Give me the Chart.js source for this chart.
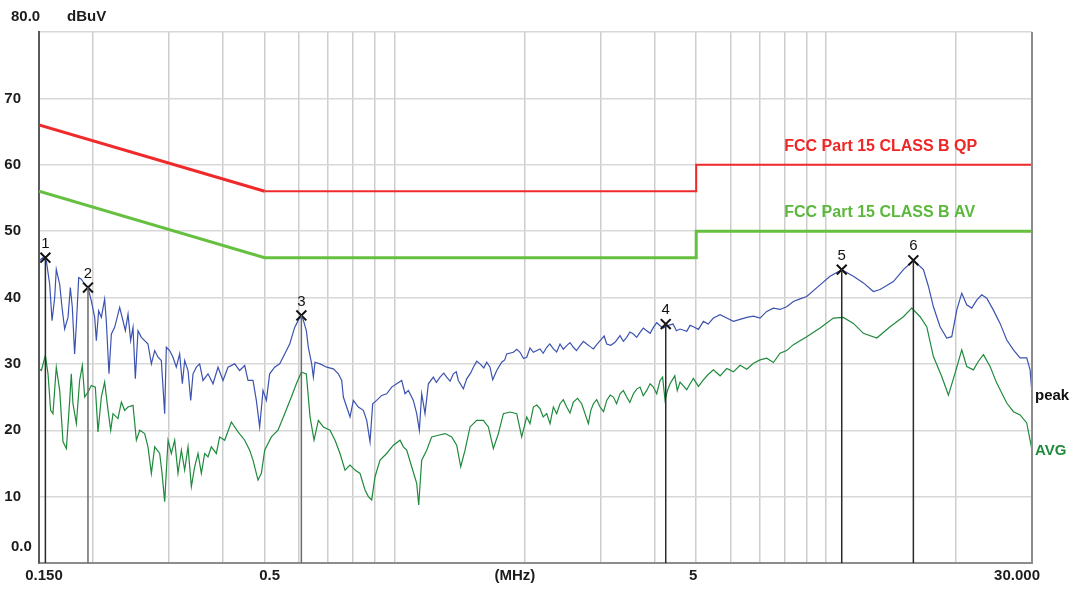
<!DOCTYPE html>
<html>
<head>
<meta charset="utf-8">
<script src="https://cdn.jsdelivr.net/npm/chart.js@4.4.1/dist/chart.umd.min.js"></script>
<style>
  html, body { margin: 0; padding: 0; background: #fff; }
  canvas { display: block; }
</style>
</head>
<body>
<canvas id="emiChart" width="1079" height="590"></canvas>
<script>
// frequencies in MHz, levels in dBuV
var peakFreq = [0.150,0.1532,0.1560,0.1588,0.1608,0.1631,0.1645,0.1675,0.1696,0.1720,0.1751,0.1773,0.1792,0.1814,0.1831,0.1854,0.1880,0.1914,0.1948,0.1983,
  0.2019,0.2037,0.2062,0.2092,0.2129,0.2148,0.2179,0.2207,0.2246,0.2307,0.2348,0.2378,0.2412,0.2446,0.2477,0.2508,0.2544,0.2590,0.2636,0.2683,
  0.2732,0.2781,0.2831,0.2881,0.2933,0.2959,0.3012,0.3066,0.3121,0.3177,0.3223,0.3263,0.3322,0.3370,0.3412,0.3473,0.3535,0.3599,0.3696,0.3796,
  0.3899,0.4004,0.4112,0.4261,0.4376,0.4495,0.4575,0.4699,0.4783,0.4869,0.4957,0.5046,0.5136,0.5275,0.5418,0.5564,0.5715,0.5869,0.6028,0.6136,0.6246,
  0.6313,0.6426,0.6484,0.6542,0.6719,0.6962,0.7214,0.7409,0.7542,0.7610,0.7746,0.7885,0.8027,0.8244,0.8467,0.8619,0.8773,0.8899,0.9091,0.9337,
  0.9589,0.9849,1.0115,1.0388,1.0575,1.0765,1.1056,1.1254,1.1415,1.1558,1.1766,1.1977,
  1.2301,1.25,1.2746,1.30,1.3208,1.345,1.3686,1.39,1.4056,1.4437,1.4696,1.50,1.5228,1.55,1.5779,1.61,1.6351,1.6644,1.6883,1.7247,
  1.7713,1.80,1.8192,1.8851,1.92,1.9534,1.99,2.0241,2.06,2.0974,2.1733,2.21,2.2521,2.29,2.3336,2.375,2.4181,2.46,2.5057,2.55,
  2.5964,2.64,2.6905,2.74,2.7879,2.84,2.8888,2.95,3.0202,3.06,3.1019,3.17,3.243,3.29,3.3306,3.39,3.4513,3.51,3.5763,3.64,
  3.7058,3.77,3.84,3.91,3.979,4.05,4.1231,4.20,4.2723,4.42,4.50,4.5873,
  4.7536,4.84,4.9257,5.06,5.1957,5.33,5.4805,5.68,5.8846,6.1,6.3185,6.55,6.7844,7.03,7.2847,7.55,7.822,8.1,8.3989,8.7,
  9.0182,9.6836,10.214,10.870,11.568,12.202,12.871,13.337,14.321,15.105,15.934,16.806,17.261,17.728,18.370,19.035,19.550,20.078,20.622,21.179,
  21.752,22.340,22.944,23.565,24.418,25.302,26.219,27.168,28.152,29.171,29.694,30.0];
var peakDb = [45.5,46.0,45.5,42.0,36.5,40.0,44.25,42.0,38.5,35.25,37.0,41.5,38.5,31.5,36.0,43.0,42.75,42.0,41.5,39.5,
  37.0,33.5,38.0,37.0,39.75,36.5,28.5,34.5,35.5,38.5,36.5,35.0,37.5,33.5,35.5,27.75,35.0,34.0,33.5,33.0,
  30.0,32.0,31.0,30.5,22.5,32.5,32.0,31.0,29.5,31.5,27.0,30.5,29.0,24.5,28.5,29.5,30.0,27.5,28.5,27.0,
  29.5,27.5,29.5,30.0,29.0,29.75,27.5,27.5,24.5,20.5,26.0,24.5,28.5,29.5,30.0,31.5,33.0,35.5,37.0,36.75,35.0,
  32.5,30.0,28.0,30.25,30.0,29.5,29.25,28.5,27.5,25.0,23.5,22.0,24.5,23.5,23.0,21.5,18.25,24.0,24.5,25.25,
  25.5,26.5,27.0,27.5,25.5,26.0,24.5,22.5,20.0,25.5,22.5,27.0,
  28.0,27.2,28.0,28.6,28.0,27.4,28.5,28.8,27.5,26.25,27.75,28.6,29.5,30.4,30.0,29.4,30.25,29.5,27.6,29.0,
  30.25,30.6,31.5,31.75,32.2,31.75,30.8,31.0,32.4,31.75,32.25,31.6,32.5,33.0,32.25,31.8,33.0,32.2,32.75,33.2,
  32.5,32.0,32.75,33.4,33.0,32.6,32.25,33.0,33.75,34.2,33.0,32.8,33.25,33.8,34.25,33.4,34.0,34.8,34.5,34.0,
  34.75,35.4,35.0,34.6,35.5,36.2,35.75,35.4,35.75,36.0,35.0,35.25,
  34.9,35.8,35.6,35.2,36.4,36.0,36.9,37.4,36.9,36.4,36.7,37.0,37.2,36.9,37.9,38.4,38.2,38.6,39.4,39.8,
  40.15,41.9,43.2,44.2,43.2,42.2,40.9,41.2,42.4,44.2,45.6,44.2,41.7,38.6,35.6,33.9,34.1,38.1,40.65,38.9,
  38.4,39.6,40.4,39.9,38.1,36.1,33.6,32.1,30.9,30.9,29.1,25.6];

var avgFreq = [0.150,0.1519,0.1552,0.1574,0.1596,0.1616,0.1645,0.1675,0.1705,0.1736,0.1767,0.1782,0.1798,0.1831,0.1863,0.1890,0.1914,0.1948,0.1983,0.2026,
  0.2055,0.2092,0.2129,0.2168,0.2199,0.2226,0.2286,0.2328,0.2369,0.2412,0.2477,0.2522,0.2567,0.2636,0.2683,0.2732,0.2781,0.2856,0.2892,0.2933,
  0.2986,0.3039,0.3094,0.3149,0.3206,0.3263,0.3322,0.3382,0.3442,0.3504,0.3567,0.3631,0.3696,0.3762,0.3864,0.3933,0.4040,0.4186,0.4338,0.4495,
  0.4616,0.4699,0.4826,0.4913,0.5001,0.5182,0.5370,0.5564,0.5766,0.5922,0.6082,0.6246,
  0.6370,0.6507,0.6659,0.6839,0.7087,0.7279,0.7475,0.7678,0.7885,0.8098,0.8317,0.8542,0.8696,0.8852,0.9010,0.9254,0.9589,0.9937,1.0296,1.0481,
  1.0669,1.0958,1.1254,1.1375,1.1558,1.1871,1.2192,1.2634,1.3091,1.3565,1.3932,1.4233,1.4566,1.4960,1.5502,1.6062,1.6497,1.6943,1.7401,1.7872,
  1.8519,1.9189,1.9708,2.0241,2.06,2.0974,2.135,2.1733,2.21,2.2521,2.2924,2.3336,2.375,2.4181,2.46,2.5057,2.55,2.5964,2.655,2.7145,
  2.8128,2.85,2.8888,2.94,2.9935,3.05,3.1019,3.16,3.2142,3.27,3.3306,3.39,3.4513,3.51,3.5763,3.64,3.7058,3.77,3.84,3.91,
  3.979,4.05,4.1231,4.18,4.2345,4.29,4.349,4.46,4.52,4.5873,
  4.7536,4.84,4.9257,5.06,5.1957,5.33,5.4805,5.68,5.8846,6.1,6.3185,6.55,6.7844,7.03,7.2847,7.55,7.822,8.1,8.3989,9.0182,
  9.6836,10.397,10.967,11.568,12.202,13.102,14.068,15.105,15.793,16.511,17.109,17.728,18.534,19.205,19.901,20.622,21.179,21.946,22.540,23.149,
  23.988,24.857,26.219,27.168,28.152,29.171,29.694,30.0];
var avgDb = [29.25,29.0,31.25,28.5,23.0,22.5,29.5,26.0,18.25,17.25,24.5,28.5,24.0,21.0,27.5,29.75,25.0,25.75,26.75,26.5,
  19.75,25.0,27.25,23.0,20.0,22.5,21.75,24.25,23.0,23.5,23.75,18.5,20.0,19.5,17.5,13.5,17.5,16.5,13.5,9.25,
  18.5,16.5,18.5,13.5,17.0,14.0,17.5,11.5,14.5,16.5,13.5,16.5,16.0,17.5,16.5,19.0,18.5,21.25,19.75,18.5,
  17.0,15.5,12.5,13.5,17.0,19.0,20.0,22.5,25.0,27.0,28.75,28.5,
  22.0,18.5,21.5,20.5,20.0,18.5,16.5,14.0,14.75,14.0,13.5,11.0,10.0,9.5,13.0,15.5,16.5,17.75,18.5,17.5,
  17.0,14.5,12.0,8.75,15.5,17.0,19.0,19.25,19.5,19.0,17.75,14.5,17.0,20.5,21.5,21.5,20.5,17.25,19.5,22.5,
  22.75,22.5,19.0,22.0,21.0,23.5,23.8,23.25,22.0,22.5,21.0,23.5,22.5,24.0,24.6,23.5,22.6,24.25,24.8,24.0,
  21.0,23.0,24.0,24.6,23.5,22.8,24.5,25.3,25.0,24.0,25.5,26.0,25.0,24.2,25.5,26.2,26.5,25.2,26.0,27.0,
  26.5,25.5,27.5,28.0,24.5,26.0,27.0,28.2,26.0,27.25,
  26.1,27.0,27.8,26.6,27.6,28.4,29.1,28.2,29.3,28.8,29.8,29.2,30.1,30.6,30.85,30.2,31.6,32.0,32.9,34.1,
  35.4,36.9,37.0,36.1,34.6,33.9,35.6,37.1,38.4,37.1,35.6,31.1,28.1,25.3,28.6,32.1,29.6,29.1,30.4,31.4,
  29.6,27.1,24.1,22.8,22.3,21.1,18.5,17.0];

var qpLimitFreq = [0.15, 0.5, 5, 5, 30];
var qpLimitDb = [66, 56, 56, 60, 60];
var avLimitFreq = [0.15, 0.5, 5, 5, 30];
var avLimitDb = [56, 46, 46, 50, 50];

var markerNo = ['1', '2', '3', '4', '5', '6'];
var markerFreq = [0.1552, 0.1948, 0.6082, 4.25, 10.87, 15.93];
var markerDb = [46.0, 41.5, 37.3, 36.0, 44.2, 45.6];

var gridFreq = [0.15, 0.2, 0.3, 0.4, 0.5, 0.6, 0.7, 0.8, 0.9, 1, 2, 3, 4, 5, 6, 7, 8, 9, 10, 20, 30];
var yTickVals = [10, 20, 30, 40, 50, 60, 70];
var xTickFreq = [0.15, 0.5, 1.9, 5, 30];
var xTickText = ['0.150', '0.5', '(MHz)', '5', '30.000'];

function pts(xs, ys) {
  return xs.map(function (x, i) { return { x: x, y: ys[i] }; });
}

var markerSets = markerFreq.map(function (f, i) {
  return {
    data: [{ x: f, y: 0 }, { x: f, y: markerDb[i] }],
    borderColor: (i === 1 || i === 2) ? '#6a6a6a' : '#2a2a2a',
    borderWidth: 1.5,
    pointRadius: 0
  };
});

var labelPlugin = {
  id: 'emiLabels',
  afterDraw: function (chart) {
    var c = chart.ctx, xs = chart.scales.x, ys = chart.scales.y, area = chart.chartArea;
    c.save();
    c.strokeStyle = '#8c8c8c';
    c.lineWidth = 2;
    c.beginPath();
    c.moveTo(area.right, area.top);
    c.lineTo(area.right, area.bottom + 1);
    c.stroke();

    c.font = 'bold 15px "Liberation Sans", Arial, sans-serif';
    c.fillStyle = '#1c1c1c';
    c.textBaseline = 'middle';
    c.textAlign = 'right';
    yTickVals.forEach(function (v) { c.fillText(String(v), 21, ys.getPixelForValue(v)); });
    c.textAlign = 'left';
    c.fillText('0.0', 11, ys.getPixelForValue(0) - 16);
    c.fillText('80.0', 11, ys.getPixelForValue(80) - 15);
    c.fillText('dBuV', 67, ys.getPixelForValue(80) - 15);

    var ty = area.bottom + 13;
    xTickText.forEach(function (t, i) {
      var px = xs.getPixelForValue(xTickFreq[i]);
      c.textAlign = 'center';
      if (i === 0 || i === 1) { px += 5; }
      else if (i === 3) { px -= 3; }
      else if (i === xTickText.length - 1) { c.textAlign = 'right'; px += 8; }
      c.fillText(t, px, ty);
    });

    c.textAlign = 'left';
    c.fillStyle = '#111';
    c.fillText('peak', area.right + 3, ys.getPixelForValue(25.2));
    c.fillStyle = '#1f8a3c';
    c.fillText('AVG', area.right + 3, ys.getPixelForValue(16.9));

    c.font = 'bold 16px "Liberation Sans", Arial, sans-serif';
    c.fillStyle = '#ee2626';
    c.fillText('FCC Part 15 CLASS B QP', xs.getPixelForValue(8), ys.getPixelForValue(62.7));
    c.fillStyle = '#5cb83c';
    c.fillText('FCC Part 15 CLASS B AV', xs.getPixelForValue(8), ys.getPixelForValue(52.8));

    c.font = '15px "Liberation Sans", Arial, sans-serif';
    c.fillStyle = '#111';
    c.textAlign = 'center';
    markerNo.forEach(function (n, i) {
      c.fillText(n, xs.getPixelForValue(markerFreq[i]), ys.getPixelForValue(markerDb[i]) - 14);
    });
    c.restore();
  }
};

var ctx = document.getElementById('emiChart').getContext('2d');
var emiChart = new Chart(ctx, {
  type: 'line',
  data: {
    datasets: markerSets.concat([
      {
        data: pts(markerFreq, markerDb),
        showLine: false,
        pointStyle: 'crossRot',
        pointRadius: 7,
        pointBorderWidth: 2,
        pointBorderColor: '#111',
        borderColor: '#111'
      },
      {
        data: pts(peakFreq, peakDb),
        borderColor: '#3c52b0',
        borderWidth: 1.2,
        pointRadius: 0
      },
      {
        data: pts(avgFreq, avgDb),
        borderColor: '#1f8a3c',
        borderWidth: 1.2,
        pointRadius: 0
      },
      {
        data: pts(qpLimitFreq, qpLimitDb),
        borderColor: '#f02a2a',
        borderWidth: 2,
        pointRadius: 0,
        segment: {
          borderWidth: function (s) { return s.p0DataIndex === 0 ? 3 : 2; }
        }
      },
      {
        data: pts(avLimitFreq, avLimitDb),
        borderColor: '#66c040',
        borderWidth: 3,
        pointRadius: 0
      }
    ])
  },
  options: {
    responsive: false,
    animation: false,
    layout: { padding: { top: 32, right: 47, left: 0, bottom: 0 } },
    plugins: { legend: { display: false }, tooltip: { enabled: false } },
    elements: { line: { tension: 0 } },
    scales: {
      x: {
        type: 'logarithmic',
        min: 0.15,
        max: 30,
        afterBuildTicks: function (s) { s.ticks = gridFreq.map(function (v) { return { value: v }; }); },
        afterFit: function (s) { s.height = 27; },
        ticks: { display: false, autoSkip: false },
        grid: { color: '#cdcdcd', lineWidth: 1.5, drawTicks: false },
        border: { color: '#8c8c8c', width: 2 }
      },
      y: {
        min: 0,
        max: 80,
        afterFit: function (s) { s.width = 39; },
        ticks: { display: false, stepSize: 10 },
        grid: { color: '#d8d8d8', lineWidth: 1.5, drawTicks: false },
        border: { color: '#5a5a5a', width: 2 }
      }
    }
  },
  plugins: [labelPlugin]
});
</script>
</body>
</html>
